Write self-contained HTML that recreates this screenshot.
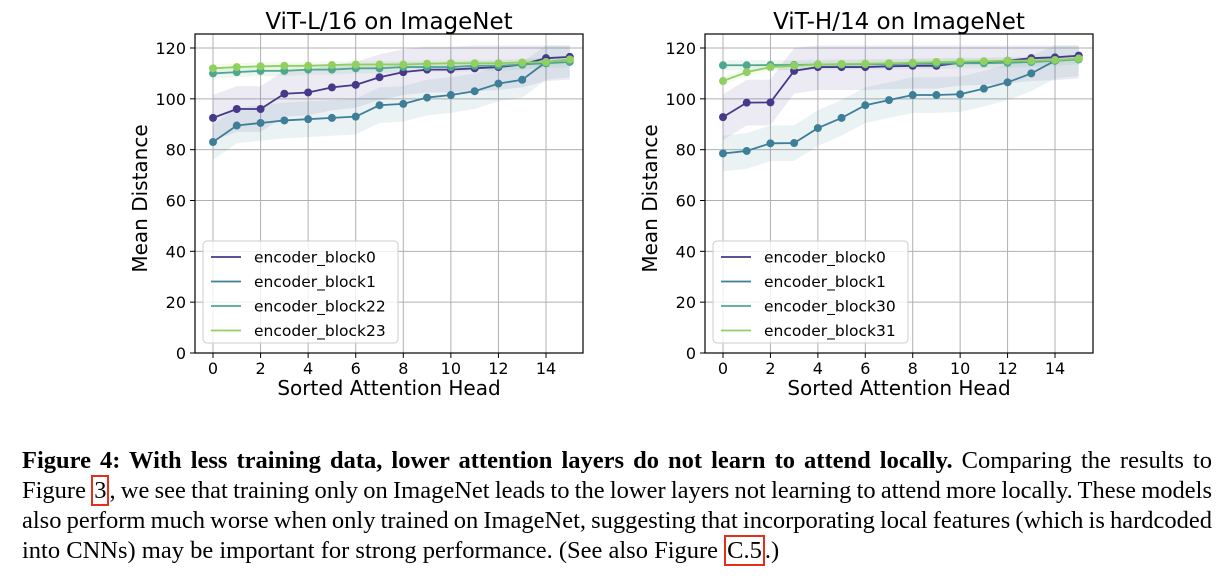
<!DOCTYPE html>
<html><head><meta charset="utf-8">
<style>
body{margin:0;background:#fff;width:1231px;height:583px;overflow:hidden;position:relative}
svg{position:absolute;left:0;top:0}
.cap{position:absolute;left:22px;top:446px;width:1190px;font-family:"Liberation Serif",serif;font-size:24.5px;line-height:30px;color:#000}
.ln{white-space:nowrap;text-align:justify;text-align-last:justify;height:30px;word-spacing:-2px}
.ln.last{text-align-last:left;word-spacing:0}
.ref{border:2px solid #e0301e;padding:0 1px}
</style></head><body>
<svg id="fig" width="1231" height="440" font-family="DejaVu Sans, Liberation Sans, sans-serif"></svg>
<div class="cap">
<div class="ln"><b>Figure 4: With less training data, lower attention layers do not learn to attend locally.</b> Comparing the results to</div>
<div class="ln">Figure <span class="ref">3</span>, we see that training only on ImageNet leads to the lower layers not learning to attend more locally. These models</div>
<div class="ln">also perform much worse when only trained on ImageNet, suggesting that incorporating local features (which is hardcoded</div>
<div class="ln last">into CNNs) may be important for strong performance. (See also Figure <span class="ref">C.5</span>.)</div>
</div>
<script>
const heads=[0,1,2,3,4,5,6,7,8,9,10,11,12,13,14,15];
const yTicks=[0,20,40,60,80,100,120];
const xTicks=[0,2,4,6,8,10,12,14];
const leftNames=["encoder_block0","encoder_block1","encoder_block22","encoder_block23"];
const leftB0=[92.5,96,96,102,102.5,104.5,105.5,108.5,110.5,111.5,111.5,112,112.5,113.5,116,116.5];
const leftB1=[83,89.5,90.5,91.5,92,92.5,93,97.5,98,100.5,101.5,103,106,107.5,114.5,115.5];
const leftB22=[110,110.5,111,111,111.5,111.5,112,112,112.5,112.5,112.5,113,113,113.5,114,114.5];
const leftB23=[112,112.5,112.8,113,113,113.3,113.5,113.5,113.5,113.8,114,114,114,114.3,114.5,115.5];
const rightNames=["encoder_block0","encoder_block1","encoder_block30","encoder_block31"];
const rightB0=[92.8,98.5,98.6,111,112.5,112.5,112.5,112.8,113,113,114.2,114.5,115,116,116.3,117];
const rightB1=[78.5,79.5,82.5,82.6,88.5,92.5,97.5,99.5,101.5,101.5,101.8,104,106.5,110,115,116];
const rightB30=[113.2,113.2,113.3,113.3,113.5,113.5,113.6,113.6,113.8,113.8,114,114,114.2,114.5,115,115.5];
const rightB31=[107,110.5,112.5,113,113.5,113.7,113.8,114,114.2,114.5,114.7,114.8,115,115,115.3,115.8];
const bandW=[9,7,2,1.5];
const colors=["#46398a","#3d7e98","#4fa88e","#8fd061"];
const NS="http://www.w3.org/2000/svg";
const svg=document.getElementById('fig');
function mk(tag,attrs,parent){const e=document.createElementNS(NS,tag);for(const k in attrs)e.setAttribute(k,attrs[k]);(parent||svg).appendChild(e);return e;}
function panel(p){
  const g=mk('g',{});
  
  
  const X=v=>p.x0+v*(p.x14-p.x0)/14, Y=v=>353-v*(353-48)/120;
  const L=p.left,R=p.right,T=34,B=353;
  xTicks.forEach(t=>{const l=mk('line',{x1:X(t),x2:X(t),y1:T,y2:B,stroke:'#b0b0b0','stroke-width':1},g);
    const tx=mk('text',{x:X(t),y:374,'font-size':16,'text-anchor':'middle',fill:'#000'},g);tx.textContent=t;
    mk('line',{x1:X(t),x2:X(t),y1:B,y2:B+5,stroke:'#000'},g);});
  yTicks.forEach(t=>{const l=mk('line',{x1:L,x2:R,y1:Y(t),y2:Y(t),stroke:'#b0b0b0','stroke-width':1},g);
    const tx=mk('text',{x:L-9,y:Y(t)+6,'font-size':16,'text-anchor':'end',fill:'#000'},g);tx.textContent=t;
    mk('line',{x1:L-5,x2:L,y1:Y(t),y2:Y(t),stroke:'#000'},g);});
  p.series.forEach((s,i)=>{
    const up=s.map((v,j)=>X(heads[j])+','+Y(Math.min(v+bandW[i],121))).join(' ');
    const dn=s.map((v,j)=>X(heads[j])+','+Y(v-bandW[i])).reverse().join(' ');
    const band=mk('polygon',{points:up+' '+dn,fill:colors[i],'fill-opacity':0.1},g);
    
  });
  p.series.forEach((s,i)=>{
    const pl=mk('polyline',{points:s.map((v,j)=>X(heads[j])+','+Y(v)).join(' '),fill:'none',stroke:colors[i],'stroke-width':1.8},g);
    
    s.forEach((v,j)=>{const c=mk('circle',{cx:X(heads[j]),cy:Y(v),r:4,fill:colors[i]},g);});
  });
  mk('rect',{x:L,y:T,width:R-L,height:B-T,fill:'none',stroke:'#000','stroke-width':1.2},g);
  const ti=mk('text',{x:(L+R)/2,y:29,'font-size':23,'text-anchor':'middle'},g);ti.textContent=p.title;
  const xt=mk('text',{x:(L+R)/2,y:395,'font-size':20,'text-anchor':'middle'},g);xt.textContent='Sorted Attention Head';
  const yt=mk('text',{x:0,y:0,'font-size':20,'text-anchor':'middle',transform:`translate(${L-48},${(T+B)/2+5}) rotate(-90)`},g);yt.textContent='Mean Distance';
  const lg=mk('g',{},g);
  mk('rect',{x:L+8,y:241,width:p.lw,height:102,rx:4,fill:'#fff','fill-opacity':0.8,stroke:'#ccc'},lg);
  p.names.forEach((n,i)=>{const yy=257+i*24.5;
    mk('line',{x1:L+16,x2:L+46,y1:yy,y2:yy,stroke:colors[i],'stroke-width':1.8},lg);
    const t=mk('text',{x:L+59,y:yy+5.5,'font-size':15.5},lg);t.textContent=n;});
}
panel({id:'left-plot',title:'ViT-L/16 on ImageNet',left:195,right:583,x0:213,x14:546,lw:195,names:leftNames,series:[leftB0,leftB1,leftB22,leftB23]});
panel({id:'right-plot',title:'ViT-H/14 on ImageNet',left:705,right:1093,x0:723,x14:1055,lw:195,names:rightNames,series:[rightB0,rightB1,rightB30,rightB31]});
</script>
</body></html>
